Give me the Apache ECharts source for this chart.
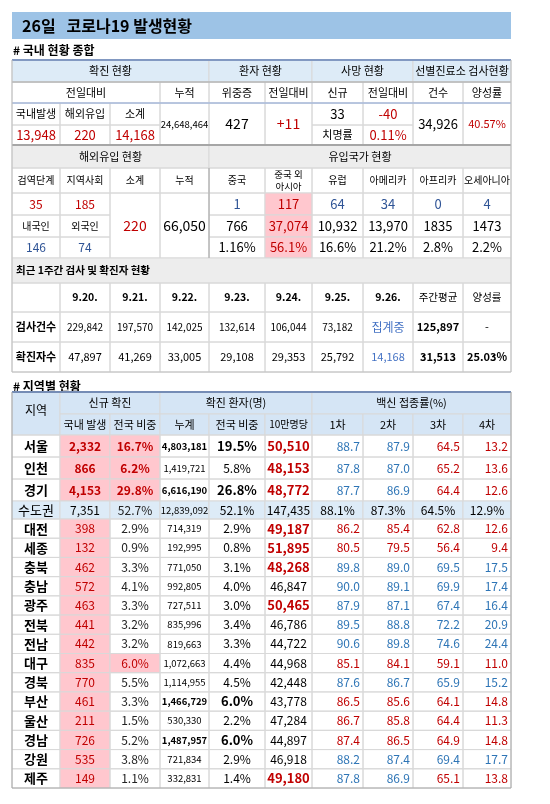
<!DOCTYPE html>
<html><head><meta charset="utf-8">
<script src="https://cdn.jsdelivr.net/npm/echarts@6/dist/echarts.min.js"></script>
<style>html,body{margin:0;padding:0;background:#fff}#c{width:550px;height:804px}</style>
</head><body><div id="c"></div>
<script>
// ---------- DATA ----------
const title = '26일   코로나19 발생현황';
const sumHead = ['확진 현황','환자 현황','사망 현황','선별진료소 검사현황'];
const sumSub = ['전일대비','누적','위중증','전일대비','신규','전일대비','건수','양성률'];
const sumLabels = ['국내발생','해외유입','소계'];
const sumNew = [13948, 220, 14168];
const sumCum = 24648464;
const severe = 427, severeDiff = '+11';
const deaths = 33, deathDiff = '-40', fatality = '0.11%';
const tests = 34926, positivity = '40.57%';
const impHead = ['해외유입 현황','유입국가 현황'];
const impSub = ['검역단계','지역사회','소계','누적','중국','중국 외\n아시아','유럽','아메리카','아프리카','오세아니아'];
const impStage = [35, 185];
const impNat = [146, 74];
const impTotal = 220, impCum = 66050;
const ctryNew = [1, 117, 64, 34, 0, 4];
const ctryCum = [766, 37074, 10932, 13970, 1835, 1473];
const ctryPct = ['1.16%','56.1%','16.6%','21.2%','2.8%','2.2%'];
const weekTitle = '최근 1주간 검사 및 확진자 현황';
const weekDates = ['9.20.','9.21.','9.22.','9.23.','9.24.','9.25.','9.26.','주간평균','양성률'];
const weekTests = ['229,842','197,570','142,025','132,614','106,044','73,182','집계중','125,897','-'];
const weekCases = ['47,897','41,269','33,005','29,108','29,353','25,792','14,168','31,513','25.03%'];
const regions = ['서울','인천','경기','수도권','대전','세종','충북','충남','광주','전북','전남','대구','경북','부산','울산','경남','강원','제주'];
const newCases = [2332,866,4153,7351,398,132,462,572,463,441,442,835,770,461,211,726,535,149];
const newShare = [16.7,6.2,29.8,52.7,2.9,0.9,3.3,4.1,3.3,3.2,3.2,6.0,5.5,3.3,1.5,5.2,3.8,1.1];
const cumCases = [4803181,1419721,6616190,12839092,714319,192995,771050,992805,727511,835996,819663,1072663,1114955,1466729,530330,1487957,721834,332831];
const cumShare = [19.5,5.8,26.8,52.1,2.9,0.8,3.1,4.0,3.0,3.4,3.3,4.4,4.5,6.0,2.2,6.0,2.9,1.4];
const per100k = [50510,48153,48772,147435,49187,51895,48268,46847,50465,46786,44722,44968,42448,43778,47284,44897,46918,49180];
const vac1 = [88.7,87.8,87.7,88.1,86.2,80.5,89.8,90.0,87.9,89.5,90.6,85.1,87.6,86.5,86.7,87.4,88.2,87.8];
const vac2 = [87.9,87.0,86.9,87.3,85.4,79.5,89.0,89.1,87.1,88.8,89.8,84.1,86.7,85.6,85.8,86.5,87.4,86.9];
const vac3 = [64.5,65.2,64.4,64.5,62.8,56.4,69.5,69.9,67.4,72.2,74.6,59.1,65.9,64.1,64.4,64.9,69.4,65.1];
const vac4 = [13.2,13.6,12.6,12.9,12.6,9.4,17.5,17.4,16.4,20.9,24.4,11.0,15.2,14.8,11.3,14.8,17.7,13.8];
const vacNational = [87.5, 86.6, 65.5, 15.0];

// ---------- LAYOUT ----------
const F = '"Noto Sans CJK KR","Noto Sans",sans-serif';
const X = [12,60,110,160,209,265,312,363,413,463,511];
const RED='#C00000', PINK='#FFC7CE', HB='#DDEBF7', GRAY='#EDEDED', NAVY='#2F5496', BLUE='#2E75B6', LINE='#D9D9D9';
const fmt = n => n.toLocaleString('en-US');
const G = [];
function cell(c0,c1,y0,y1,text,o){
  o=o||{};
  const x0=X[c0], x1=X[c1];
  G.push({type:'rect',shape:{x:x0,y:y0,width:x1-x0,height:y1-y0},style:{fill:o.bg||'none',stroke:LINE,lineWidth:1}});
  if(text===undefined||text===null||text==='') return;
  const al=o.align||'center';
  const tx = al==='center'?(x0+x1)/2:al==='right'?x1-3:x0+4;
  G.push({type:'text',z:10,style:{x:tx,y:(y0+y1)/2+(o.dy||0),text:String(text),align:al,verticalAlign:'middle',
    font:(o.bold?'bold ':'')+(o.size||12)+'px '+F,fill:o.color||'#000',lineHeight:(o.size||12)+2}});
}
function hline(y,x0,x1,color,w){G.push({type:'line',z:20,shape:{x1:x0,y1:y,x2:x1,y2:y},style:{stroke:color,lineWidth:w}});}
function vline(x,y0,y1,color,w){G.push({type:'line',z:20,shape:{x1:x,y1:y0,x2:x,y2:y1},style:{stroke:color,lineWidth:w}});}

G.push({type:'rect',shape:{x:12,y:12,width:499,height:27},style:{fill:'#9DC3E6'}});
G.push({type:'text',style:{x:22,y:26,text:title,verticalAlign:'middle',font:'bold 16px '+F,fill:'#000'}});
G.push({type:'text',style:{x:13,y:50,text:'# 국내 현황 종합',verticalAlign:'middle',font:'bold 12px '+F,fill:'#000'}});

let r=[60,82,103,125,145];
cell(0,4,r[0],r[1],sumHead[0],{bg:HB,size:11});
cell(4,6,r[0],r[1],sumHead[1],{bg:HB,size:11});
cell(6,8,r[0],r[1],sumHead[2],{bg:HB,size:11});
cell(8,10,r[0],r[1],sumHead[3],{bg:HB,size:11});
cell(0,3,r[1],r[2],sumSub[0],{size:11});
for(let i=1;i<8;i++) cell(i+2,i+3,r[1],r[2],sumSub[i],{size:11});
sumLabels.forEach((t,i)=>cell(i,i+1,r[2],r[3],t,{size:11}));
sumNew.forEach((v,i)=>cell(i,i+1,r[3],r[4],fmt(v),{color:RED,size:13}));
cell(3,4,r[2],r[4],fmt(sumCum),{size:9.5});
cell(4,5,r[2],r[4],severe,{size:14});
cell(5,6,r[2],r[4],severeDiff,{size:14,color:RED});
cell(6,7,r[2],r[3],deaths,{size:13});
cell(7,8,r[2],r[3],deathDiff,{size:13,color:RED});
cell(6,7,r[3],r[4],'치명률',{size:11});
cell(7,8,r[3],r[4],fatality,{size:13,color:RED});
cell(8,9,r[2],r[4],fmt(tests),{size:13});
cell(9,10,r[2],r[4],positivity,{size:11,color:RED});
hline(60,12,511,'#4472C4',2);
hline(r[1],12,511,'#A6A6A6',1);
hline(r[2],12,511,'#8EA9DB',1);

r=[145,168,193,215,237,258];
cell(0,4,r[0],r[1],impHead[0],{bg:GRAY,size:11});
cell(4,10,r[0],r[1],impHead[1],{bg:GRAY,size:11});
impSub.forEach((t,i)=>cell(i,i+1,r[1],r[2],t,{size:i===5?9.5:10}));
impStage.forEach((v,i)=>cell(i,i+1,r[2],r[3],v,{size:12,color:RED}));
cell(0,1,r[3],r[4],'내국인',{size:10});
cell(1,2,r[3],r[4],'외국인',{size:10});
impNat.forEach((v,i)=>cell(i,i+1,r[4],r[5],v,{size:12,color:NAVY}));
cell(2,3,r[2],r[5],impTotal,{size:14,color:RED});
cell(3,4,r[2],r[5],fmt(impCum),{size:14});
ctryNew.forEach((v,i)=>cell(i+4,i+5,r[2],r[3],v,{size:13,color:i===1?RED:NAVY,bg:i===1?PINK:null}));
ctryCum.forEach((v,i)=>cell(i+4,i+5,r[3],r[4],i<4?fmt(v):String(v),{size:13,color:i===1?RED:'#000',bg:i===1?PINK:null}));
ctryPct.forEach((v,i)=>cell(i+4,i+5,r[4],r[5],v,{size:13,color:i===1?RED:'#000',bg:i===1?PINK:null}));
hline(145,12,511,'#A6A6A6',2);
vline(209,168,258,'#A6A6A6',1);

r=[258,283,312,342,372];
G.push({type:'rect',shape:{x:12,y:r[0],width:499,height:r[1]-r[0]},style:{fill:GRAY,stroke:LINE}});
G.push({type:'text',style:{x:16,y:(r[0]+r[1])/2,text:weekTitle,verticalAlign:'middle',font:'bold 10.5px '+F,fill:'#000'}});
cell(0,1,r[1],r[2],'');
weekDates.forEach((t,i)=>cell(i+1,i+2,r[1],r[2],t,{size:10.5,bold:i<7}));
cell(0,1,r[2],r[3],'검사건수',{size:11,bold:true});
cell(0,1,r[3],r[4],'확진자수',{size:11,bold:true});
weekTests.forEach((t,i)=>cell(i+1,i+2,r[2],r[3],t,{size:i===6?12:i>6?11:10,color:i===6?'#4472C4':'#000',bold:i===7}));
weekCases.forEach((t,i)=>cell(i+1,i+2,r[3],r[4],t,{size:11,color:i===6?'#4472C4':'#000',bold:i>6}));
G.push({type:'rect',z:20,shape:{x:12,y:60,width:499,height:312},style:{fill:'none',stroke:'#BFBFBF',lineWidth:1}});

G.push({type:'text',style:{x:13,y:386,text:'# 지역별 현황',verticalAlign:'middle',font:'bold 12px '+F,fill:'#000'}});

const HB2='#D5E5F5';
cell(0,1,392,435,'지역',{bg:HB2,size:12,dy:-3});
cell(1,3,392,414,'신규 확진',{bg:HB2,size:11});
cell(3,6,392,414,'확진 환자(명)',{bg:HB2,size:11});
cell(6,10,392,414,'백신 접종률(%)',{bg:HB2,size:11});
['국내 발생','전국 비중','누계','전국 비중','10만명당','1차','2차','3차','4차'].forEach((t,i)=>cell(i+1,i+2,414,435,t,{bg:HB2,size:i===4?10:11}));
hline(392,12,511,'#4472C4',2);
const rowY=[435,457,479,501,519];
for(let k=1;k<=14;k++) rowY.push(519+k*(788-519)/14);
regions.forEach((name,i)=>{
  const y0=rowY[i], y1=rowY[i+1], metro=i===3, top=i<3;
  const bg=metro?'#DDEBF7':null;
  cell(0,1,y0,y1,name,{size:13,bold:!metro,bg});
  cell(1,2,y0,y1,fmt(newCases[i]),{size:12,bold:top,color:metro?'#000':RED,bg:metro?bg:PINK});
  const sp=!metro&&newShare[i]>=6.0;
  cell(2,3,y0,y1,newShare[i].toFixed(1)+'%',{size:12,bold:sp&&top,color:sp?RED:'#222',bg:sp?PINK:bg});
  const bc=!metro&&cumCases[i]>=1450000;
  cell(3,4,y0,y1,fmt(cumCases[i]),{size:9.5,bold:bc,bg});
  cell(4,5,y0,y1,cumShare[i].toFixed(1)+'%',{size:bc?13:12,bold:bc,bg});
  const hp=!metro&&per100k[i]>=48000;
  cell(5,6,y0,y1,fmt(per100k[i]),{size:hp?13:12,bold:hp,color:hp?RED:'#000',bg});
  [vac1,vac2,vac3,vac4].forEach((arr,j)=>{
    const v=arr[i];
    const col=metro?'#000':(v>vacNational[j]?BLUE:RED);
    cell(6+j,7+j,y0,y1,v.toFixed(1)+(metro?'%':''),{size:12,color:col,align:metro?'center':'right',bg});
  });
});
G.push({type:'rect',z:20,shape:{x:12,y:392,width:499,height:396},style:{fill:'none',stroke:'#A6A6A6',lineWidth:1}});

const chart=echarts.init(document.getElementById('c'),null,{renderer:'canvas'});
chart.setOption({animation:false,graphic:{elements:G}});
</script></body></html>
